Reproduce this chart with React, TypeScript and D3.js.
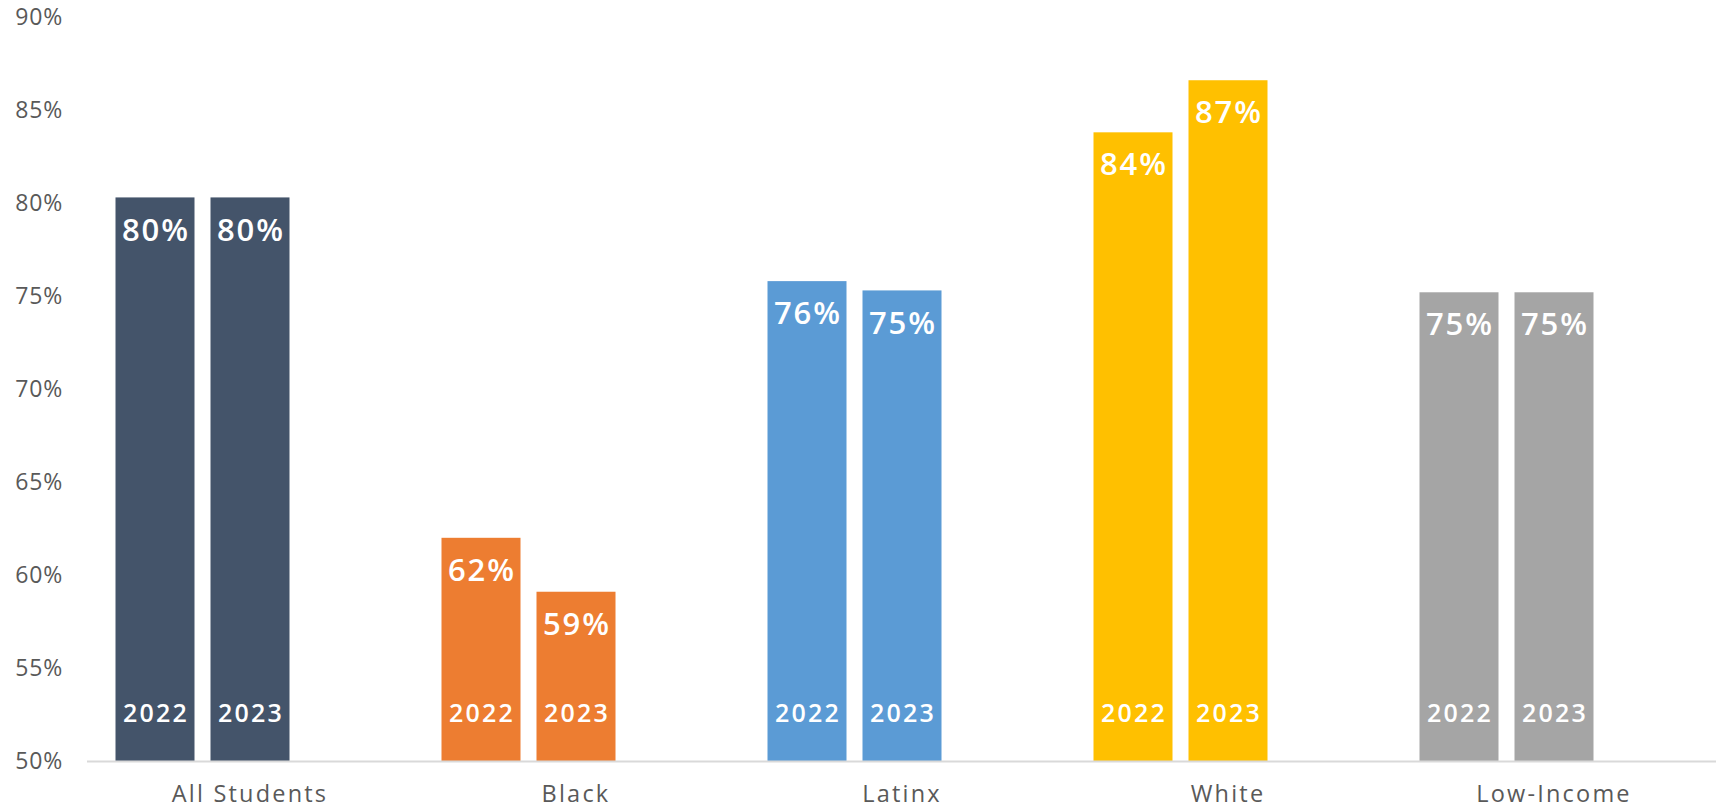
import React from "react";
import * as d3 from "d3";

const categories = ["All Students", "Black", "Latinx", "White", "Low-Income"];
const seriesNames = ["2022", "2023", "blank"];
const values2022 = [80.3, 62.0, 75.8, 83.8, 75.2];
const values2023 = [80.3, 59.1, 75.3, 86.6, 75.2];
const colors = ["#44546A", "#ED7D31", "#5B9BD5", "#FFC000", "#A5A5A5"];
const yTicks = [50, 55, 60, 65, 70, 75, 80, 85, 90];

const W = 1716;
const H = 808;
const FONT = "'Open Sans', 'Noto Sans', sans-serif";

export default function App() {
  const y = d3.scaleLinear().domain([50, 90]).range([761, 17]);
  const x0 = d3.scaleBand<string>().domain(categories).range([87, 1717]).paddingInner(0).paddingOuter(0);
  const x1 = d3
    .scaleBand<string>()
    .domain(seriesNames)
    .range([0, x0.bandwidth()])
    .paddingInner(16 / 95)
    .paddingOuter(0.3);

  const series = [values2022, values2023];

  return (
    <svg
      width={W}
      height={H}
      style={{ position: "absolute", left: 0, top: 0, display: "block", background: "#fff" }}
    >
      {yTicks.map((t) => (
        <text
          key={t}
          x={63}
          y={y(t)}
          dy="0.36em"
          textAnchor="end"
          fontFamily={FONT}
          fontSize={23}
          letterSpacing={0.8}
          fill="#595959"
        >
          {t}%
        </text>
      ))}
      {categories.map((c, ci) => (
        <g key={c} transform={`translate(${x0(c)},0)`}>
          {series.map((vals, si) => {
            const v = vals[ci];
            const bx = x1(seriesNames[si])!;
            const bw = x1.bandwidth();
            const top = y(v);
            return (
              <g key={si}>
                <rect x={bx} y={top} width={bw} height={y(50) - top} fill={colors[ci]} />
                <text
                  x={bx + bw / 2 + 1}
                  y={top + 32}
                  dy="0.36em"
                  textAnchor="middle"
                  fontFamily={FONT}
                  fontWeight={600}
                  fontSize={31}
                  letterSpacing={2}
                  fill="#fff"
                >
                  {Math.round(v)}%
                </text>
                <text
                  x={bx + bw / 2 + 1}
                  y={y(50) - 48}
                  dy="0.36em"
                  textAnchor="middle"
                  fontFamily={FONT}
                  fontWeight={600}
                  fontSize={25}
                  letterSpacing={2.2}
                  fill="#fff"
                >
                  {seriesNames[si]}
                </text>
              </g>
            );
          })}
          <text
            x={x0.bandwidth() / 2}
            y={802}
            textAnchor="middle"
            fontFamily={FONT}
            fontSize={23.5}
            letterSpacing={2.2}
            fill="#595959"
          >
            {c}
          </text>
        </g>
      ))}
      <line x1={87} x2={W} y1={y(50) + 0.5} y2={y(50) + 0.5} stroke="#D9D9D9" strokeWidth={2} />
    </svg>
  );
}
